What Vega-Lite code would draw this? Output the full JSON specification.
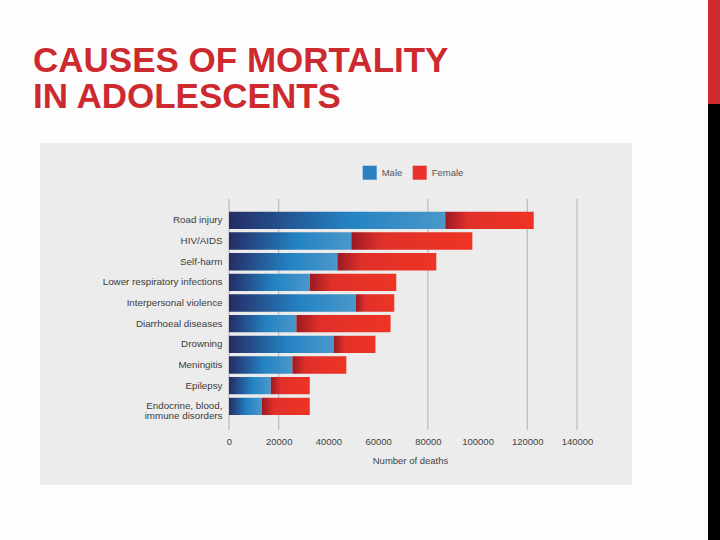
{
  "$schema": "https://vega.github.io/schema/vega-lite/v6.json",
  "background": "#fdfdfd",
  "padding": {"left": 33, "top": 0, "right": 0, "bottom": 0},
  "spacing": 0,
  "bounds": "full",
  "config": {"font": "Liberation Sans", "view": {"stroke": null}},
  "vconcat": [
    {
      "spacing": 76,
      "hconcat": [
        {
          "width": 592,
          "height": 40,
          "view": {"fill": null, "stroke": null},
          "data": {"values": []},
          "mark": "point",
          "title": {
            "text": ["CAUSES OF MORTALITY", "IN ADOLESCENTS"],
            "orient": "bottom",
            "anchor": "start",
            "frame": "group",
            "baseline": "top",
            "dx": -7,
            "offset": 4,
            "fontSize": 35,
            "fontWeight": "bold",
            "color": "#cd2a30",
            "lineHeight": 36.4,
            "font": "Liberation Sans"
          }
        },
        {
          "spacing": 0,
          "vconcat": [
            {"width": 12, "height": 104, "view": {"fill": "#cd2a30", "stroke": null}, "data": {"values": []}, "mark": "point"},
            {"width": 12, "height": 39, "view": {"fill": "#000000", "stroke": null}, "data": {"values": []}, "mark": "point"}
          ]
        }
      ]
    },
    {
      "spacing": 76,
      "hconcat": [
        {
          "width": 592,
          "height": 342,
          "view": {"fill": "#ececec", "stroke": null},
          "data": {
            "values": [
              {"cause": "Road injury", "sex": "Male", "deaths": 87000},
              {"cause": "Road injury", "sex": "Female", "deaths": 35600},
              {"cause": "HIV/AIDS", "sex": "Male", "deaths": 49200},
              {"cause": "HIV/AIDS", "sex": "Female", "deaths": 48700},
              {"cause": "Self-harm", "sex": "Male", "deaths": 43600},
              {"cause": "Self-harm", "sex": "Female", "deaths": 39800},
              {"cause": "Lower respiratory infections", "sex": "Male", "deaths": 32500},
              {"cause": "Lower respiratory infections", "sex": "Female", "deaths": 34800},
              {"cause": "Interpersonal violence", "sex": "Male", "deaths": 51000},
              {"cause": "Interpersonal violence", "sex": "Female", "deaths": 15500},
              {"cause": "Diarrhoeal diseases", "sex": "Male", "deaths": 27100},
              {"cause": "Diarrhoeal diseases", "sex": "Female", "deaths": 37900},
              {"cause": "Drowning", "sex": "Male", "deaths": 42100},
              {"cause": "Drowning", "sex": "Female", "deaths": 16800},
              {"cause": "Meningitis", "sex": "Male", "deaths": 25500},
              {"cause": "Meningitis", "sex": "Female", "deaths": 21700},
              {"cause": "Epilepsy", "sex": "Male", "deaths": 16800},
              {"cause": "Epilepsy", "sex": "Female", "deaths": 15700},
              {"cause": "Endocrine, blood, immune disorders", "sex": "Male", "deaths": 13200},
              {"cause": "Endocrine, blood, immune disorders", "sex": "Female", "deaths": 19300}
            ]
          },
          "layer": [
            {
              "data": {"values": [{"tick": 0}, {"tick": 20000}, {"tick": 80000}, {"tick": 120000}, {"tick": 140000}]},
              "mark": {"type": "rule", "color": "#b2b2b2", "strokeWidth": 1, "yOffset": -21.4, "y2Offset": 23.7},
              "encoding": {
                "x": {
                  "field": "tick",
                  "type": "quantitative",
                  "title": "Number of deaths",
                  "scale": {"domain": [0, 140000], "range": [189, 537], "nice": false, "zero": false},
                  "axis": {
                    "offset": -55,
                    "values": [0, 20000, 40000, 60000, 80000, 100000, 120000, 140000],
                    "format": "d",
                    "grid": false,
                    "domain": false,
                    "ticks": false,
                    "tickSize": 0,
                    "labelFlush": false,
                    "labelOverlap": false,
                    "labelPadding": 6,
                    "labelFontSize": 9.5,
                    "labelColor": "#444444",
                    "labelFont": "Liberation Sans",
                    "titleFontSize": 9.5,
                    "titleFontWeight": "normal",
                    "titleColor": "#444444",
                    "titleFont": "Liberation Sans",
                    "titlePadding": 10,
                    "titleX": 370
                  }
                },
                "y": {
                  "datum": "Road injury",
                  "type": "nominal",
                  "title": null,
                  "scale": {
                    "domain": ["Road injury", "HIV/AIDS", "Self-harm", "Lower respiratory infections", "Interpersonal violence", "Diarrhoeal diseases", "Drowning", "Meningitis", "Epilepsy", "Endocrine, blood, immune disorders"],
                    "range": [68.7, 272],
                    "paddingInner": 0.16,
                    "paddingOuter": 0
                  },
                  "axis": {
                    "offset": -189,
                    "domain": false,
                    "ticks": false,
                    "tickSize": 0,
                    "grid": false,
                    "labelPadding": 7,
                    "labelFontSize": 9.8,
                    "labelColor": "#3c3c3c",
                    "labelFont": "Liberation Sans",
                    "labelLineHeight": 9.5,
                    "labelExpr": "datum.value == 'Endocrine, blood, immune disorders' ? ['Endocrine, blood,', 'immune disorders'] : datum.value"
                  }
                },
                "y2": {"datum": "Endocrine, blood, immune disorders"}
              }
            },
            {
              "transform": [
                {"stack": "deaths", "groupby": ["cause"], "sort": [{"field": "sex", "order": "descending"}], "as": ["d0", "d1"]},
                {"filter": "datum.sex === 'Male'"}
              ],
              "mark": {"type": "bar"},
              "encoding": {
                "y": {"field": "cause", "type": "nominal", "title": null},
                "x": {"field": "d0", "type": "quantitative", "title": "Number of deaths"},
                "x2": {"field": "d1"},
                "color": {
                  "condition": {"test": "true", "value": {"gradient": "linear", "x1": 0, "y1": 0, "x2": 1, "y2": 0, "stops": [{"offset": 0, "color": "#252c66"}, {"offset": 0.55, "color": "#2382c2"}, {"offset": 1, "color": "#4a98ca"}]}},
                  "field": "sex",
                  "type": "nominal",
                  "title": null,
                  "scale": {"domain": ["Male", "Female"], "range": ["#2a7fc0", "#e8312a"]},
                  "legend": {
                    "orient": "none",
                    "legendX": 322.7,
                    "legendY": 165.7,
                    "direction": "horizontal",
                    "padding": 0,
                    "symbolType": "square",
                    "symbolSize": 196,
                    "symbolStrokeWidth": 0,
                    "labelOffset": 5,
                    "columnPadding": 10,
                    "labelFontSize": 9.5,
                    "labelColor": "#555555",
                    "labelFont": "Liberation Sans",
                    "encode": {
                      "symbols": {
                        "update": {
                          "fill": [
                            {"test": "datum.value === 'Male'", "value": {"gradient": "linear", "x1": 0, "y1": 0, "x2": 1, "y2": 0, "stops": [{"offset": 0, "color": "#252c66"}, {"offset": 1, "color": "#3a90c8"}]}},
                            {"value": {"gradient": "linear", "x1": 0, "y1": 0, "x2": 1, "y2": 0, "stops": [{"offset": 0, "color": "#c42426"}, {"offset": 0.4, "color": "#e8312a"}, {"offset": 1, "color": "#ee3424"}]}}
                          ]
                        }
                      }
                    }
                  }
                }
              }
            },
            {
              "transform": [
                {"stack": "deaths", "groupby": ["cause"], "sort": [{"field": "sex", "order": "descending"}], "as": ["d0", "d1"]},
                {"filter": "datum.sex === 'Female'"}
              ],
              "mark": {"type": "bar"},
              "encoding": {
                "y": {"field": "cause", "type": "nominal", "title": null},
                "x": {"field": "d0", "type": "quantitative", "title": "Number of deaths"},
                "x2": {"field": "d1"},
                "color": {
                  "condition": {"test": "true", "value": {"gradient": "linear", "x1": 0, "y1": 0, "x2": 1, "y2": 0, "stops": [{"offset": 0, "color": "#9a1a22"}, {"offset": 0.25, "color": "#e0302a"}, {"offset": 1, "color": "#ee3424"}]}},
                  "field": "sex",
                  "type": "nominal",
                  "title": null
                }
              }
            }
          ]
        },
        {"width": 12, "height": 397, "view": {"fill": "#000000", "stroke": null}, "data": {"values": []}, "mark": "point"}
      ]
    }
  ]
}
